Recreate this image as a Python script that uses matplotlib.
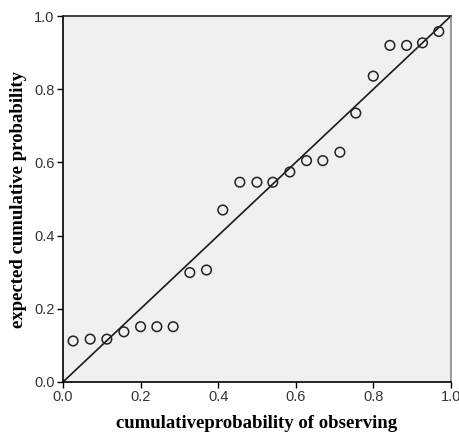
import matplotlib
matplotlib.use("Agg")
import matplotlib.pyplot as plt

observed = [0.026, 0.070, 0.113, 0.157, 0.200, 0.242, 0.284, 0.327, 0.370,
            0.412, 0.456, 0.500, 0.541, 0.585, 0.628, 0.670, 0.714, 0.755,
            0.800, 0.843, 0.886, 0.927, 0.969]
expected = [0.112, 0.117, 0.117, 0.137, 0.151, 0.151, 0.151, 0.299, 0.306,
            0.470, 0.546, 0.546, 0.546, 0.574, 0.605, 0.605, 0.628, 0.735,
            0.836, 0.920, 0.920, 0.927, 0.958]
ticks = [0.0, 0.2, 0.4, 0.6, 0.8, 1.0]
tick_labels = ["0.0", "0.2", "0.4", "0.6", "0.8", "1.0"]

fig = plt.figure(figsize=(4.6, 4.36), dpi=100)
ax = fig.add_axes([0.137, 0.124, 0.843, 0.839])
ax.set_facecolor("#f0f0f0")
ax.plot([0, 1], [0, 1], color="#1a1a1a", lw=1.2, zorder=2)
ax.scatter(observed, expected, s=48, facecolors="none", edgecolors="#222222",
           linewidths=1.1, zorder=3)
ax.set_xlim(0, 1)
ax.set_ylim(0, 1)
ax.set_xticks(ticks)
ax.set_xticklabels(tick_labels)
ax.set_yticks(ticks)
ax.set_yticklabels(tick_labels)
ax.tick_params(direction="out", length=4, width=1, color="black",
               labelsize=10.5, labelcolor="#333333", pad=2)
for lab in ax.get_xticklabels() + ax.get_yticklabels():
    lab.set_fontfamily("Liberation Sans")
for s in ["left", "bottom"]:
    ax.spines[s].set_color("black")
    ax.spines[s].set_linewidth(1.2)
ax.spines["top"].set_color("#222222")
ax.spines["top"].set_linewidth(1.2)
ax.spines["right"].set_color("#888888")
ax.spines["right"].set_linewidth(1.2)
ax.set_xlabel("cumulativeprobability of observing", fontfamily="Liberation Serif",
              fontweight="bold", fontsize=13.5, labelpad=8)
ax.set_ylabel("expected cumulative probability", fontfamily="Liberation Serif",
              fontweight="bold", fontsize=13.5, labelpad=5)
fig.savefig("out.png", dpi=100)
